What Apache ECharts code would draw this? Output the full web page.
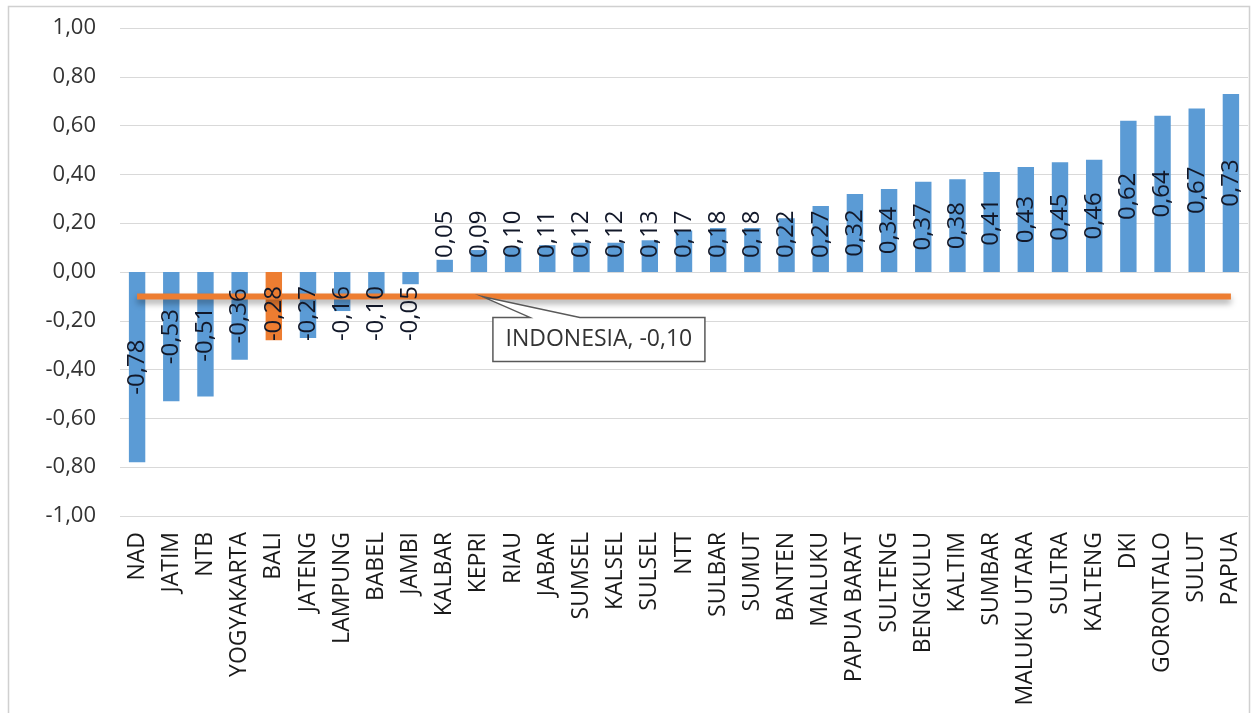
<!DOCTYPE html>
<html>
<head>
<meta charset="utf-8">
<script src="https://cdn.jsdelivr.net/npm/echarts@6/dist/echarts.min.js"></script>
<style>
  html, body { margin: 0; padding: 0; background: #fff; }
  #chart { width: 1255px; height: 713px; }
</style>
</head>
<body>
<div id="chart"></div>
<script>
  var categories = ['NAD', 'JATIM', 'NTB', 'YOGYAKARTA', 'BALI', 'JATENG', 'LAMPUNG', 'BABEL', 'JAMBI',
    'KALBAR', 'KEPRI', 'RIAU', 'JABAR', 'SUMSEL', 'KALSEL', 'SULSEL', 'NTT', 'SULBAR', 'SUMUT',
    'BANTEN', 'MALUKU', 'PAPUA BARAT', 'SULTENG', 'BENGKULU', 'KALTIM', 'SUMBAR', 'MALUKU UTARA',
    'SULTRA', 'KALTENG', 'DKI', 'GORONTALO', 'SULUT', 'PAPUA'];
  var values = [-0.78, -0.53, -0.51, -0.36, -0.28, -0.27, -0.16, -0.10, -0.05,
    0.05, 0.09, 0.10, 0.11, 0.12, 0.12, 0.13, 0.17, 0.18, 0.18,
    0.22, 0.27, 0.32, 0.34, 0.37, 0.38, 0.41, 0.43,
    0.45, 0.46, 0.62, 0.64, 0.67, 0.73];
  // garis rata-rata nasional
  var indonesia = [-0.10, -0.10, -0.10, -0.10, -0.10, -0.10, -0.10, -0.10, -0.10,
    -0.10, -0.10, -0.10, -0.10, -0.10, -0.10, -0.10, -0.10, -0.10, -0.10,
    -0.10, -0.10, -0.10, -0.10, -0.10, -0.10, -0.10, -0.10,
    -0.10, -0.10, -0.10, -0.10, -0.10, -0.10];
  var highlight = 'BALI';
  var calloutAt = 'KEPRI';
  var calloutText = 'INDONESIA, -0,10';

  var font = 'Open Sans';
  function koma(v) { return Number(v).toFixed(2).replace('.', ','); }

  function labelFor(v) {
    if (v >= 0.32 || v <= -0.34) {
      return { position: 'inside', align: 'center', verticalAlign: 'middle' };
    }
    if (v > 0) {
      return { position: 'insideBottom', distance: 14, align: 'left', verticalAlign: 'middle' };
    }
    return { position: 'insideTop', distance: 14, align: 'right', verticalAlign: 'middle' };
  }

  var barData = values.map(function (v, i) {
    return categories[i] === highlight ? { value: v, itemStyle: { color: '#ED7D31' } } : v;
  });
  var labelData = values.map(function (v) {
    return { value: v, label: labelFor(v) };
  });

  var chart = echarts.init(document.getElementById('chart'));
  chart.setOption({
    animation: false,
    grid: { left: 120, right: 7, top: 28, bottom: 197 },
    xAxis: {
      type: 'category',
      data: categories,
      axisLine: { show: false },
      axisTick: { show: false },
      axisLabel: { rotate: 90, interval: 0, margin: 16, fontFamily: font, fontSize: 23, color: '#1a1a1a' }
    },
    yAxis: {
      type: 'value',
      min: -1,
      max: 1,
      interval: 0.2,
      axisLine: { show: false },
      axisTick: { show: false },
      splitLine: { lineStyle: { color: '#d9d9d9', width: 1 } },
      axisLabel: { margin: 24, fontFamily: font, fontSize: 22, color: '#333333', formatter: koma }
    },
    series: [
      {
        type: 'bar',
        data: barData,
        barWidth: '48%',
        itemStyle: { color: '#5B9BD5' },
        z: 2
      },
      {
        type: 'line',
        data: indonesia,
        symbol: 'none',
        lineStyle: {
          color: '#ED7D31', width: 6,
          shadowColor: 'rgba(0,0,0,0.35)', shadowBlur: 6, shadowOffsetY: 4
        },
        z: 3
      },
      {
        // hanya untuk label, di atas garis
        type: 'bar',
        data: labelData,
        barWidth: '48%',
        barGap: '-100%',
        itemStyle: { color: 'rgba(0,0,0,0)' },
        label: {
          show: true,
          rotate: 90,
          fontFamily: font,
          fontSize: 24,
          color: '#121829',
          formatter: function (p) { return koma(p.value); }
        },
        silent: true,
        z: 4
      }
    ]
  });

  var p = chart.convertToPixel({ gridIndex: 0 }, [categories.indexOf(calloutAt), indonesia[0]]);
  var x = p[0], y = p[1];
  chart.setOption({
    graphic: [
      {
        type: 'rect',
        silent: true,
        shape: { x: 8.5, y: 6.5, width: 1241, height: 730 },
        style: { fill: 'none', stroke: '#d0d0d0', lineWidth: 1.5 }
      },
      {
        type: 'polygon',
        silent: true,
        z: 10,
        shape: {
          points: [
            [x + 3, y], [x + 101, y + 21], [x + 226, y + 21], [x + 226, y + 65],
            [x + 14, y + 65], [x + 14, y + 21], [x + 51, y + 21]
          ]
        },
        style: { fill: '#fff', stroke: '#595959', lineWidth: 1.5 }
      },
      {
        type: 'text',
        silent: true,
        z: 11,
        x: x + 120,
        y: y + 43,
        style: {
          text: calloutText, fontFamily: font, fontSize: 23, fill: '#333333',
          align: 'center', verticalAlign: 'middle'
        }
      }
    ]
  });
</script>
</body>
</html>
